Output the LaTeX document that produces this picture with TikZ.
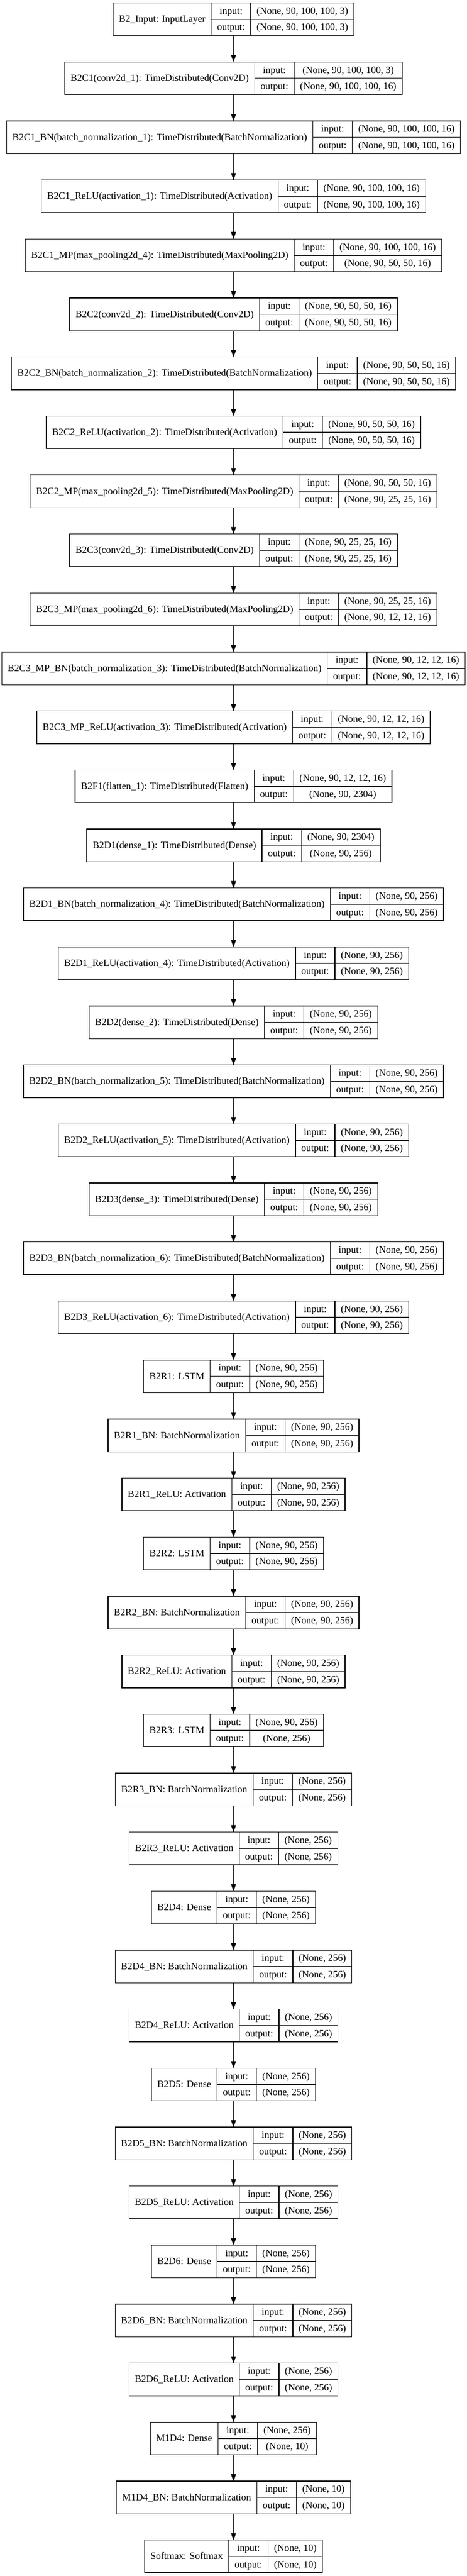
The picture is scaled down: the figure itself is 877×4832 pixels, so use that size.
\documentclass[tikz,border=0pt]{standalone}
\usepackage{fontspec}
\setmainfont{Liberation Serif}
\usetikzlibrary{arrows.meta,fit,calc}
\newlength\LA \newlength\LB \newlength\LC \newlength\LD \newlength\LT
\newcommand\lf{\fontsize{18.4pt}{22pt}\selectfont}
\tikzset{
 cell/.style={draw=black, line width=1.3pt, inner xsep=0pt, inner ysep=0pt, outer sep=0pt,
   minimum height=30.65pt, text height=15.6pt, text depth=4.6pt, font=\lf},
 labcell/.style={cell, minimum height=61.3pt},
 measure/.style={inner sep=0pt, outer sep=0pt, minimum size=0pt, text height=0pt, text depth=0pt},
 frame/.style={draw=none, inner sep=0pt, outer sep=0pt},
 flow/.style={draw=black, line width=1.3pt, -{Triangle[length=13pt,width=9.5pt]}}
}
\newcommand\layer[5]{%
 \node[measure] (#1m) at (438.5pt,0pt) {\lf\settowidth\LA{#3}\settowidth\LB{output:}\settowidth\LC{#4}\settowidth\LD{#5}\global\LA=\LA\global\LB=\LB\global\LC=\LC\global\LD=\LD};%
 \ifdim\LD>\LC \global\LC=\LD\fi
 \addtolength\LA{22pt}\addtolength\LB{22pt}\addtolength\LC{22pt}%
 \LT=\LA \advance\LT\LB \advance\LT\LC
 \pgfmathsetmacro\ytop{-(5.5+110.68*#2)}%
 \pgfmathsetlengthmacro\xleft{438.5pt-0.5*\LT}%
 \node[labcell, minimum width=\LA, anchor=north west] (#1l) at (\xleft, \ytop pt) {#3};
 \node[cell, minimum width=\LB, anchor=north west] (#1i) at (#1l.north east) {input:};
 \node[cell, minimum width=\LB, anchor=north west] (#1o) at (#1i.south west) {output:};
 \node[cell, minimum width=\LC, anchor=north west] (#1x) at (#1i.north east) {#4};
 \node[cell, minimum width=\LC, anchor=north west] (#1y) at (#1x.south west) {#5};
 \node[frame, fit=(#1l)(#1y)] (#1) {};
}
\begin{document}
\begin{tikzpicture}
\useasboundingbox[fill=white] (0,0) rectangle (877pt,-4832pt);
\layer{n0}{0}{B2\_Input: InputLayer}{(None, 90, 100, 100, 3)}{(None, 90, 100, 100, 3)}
\layer{n1}{1}{B2C1(conv2d\_1): TimeDistributed(Conv2D)}{(None, 90, 100, 100, 3)}{(None, 90, 100, 100, 16)}
\layer{n2}{2}{B2C1\_BN(batch\_normalization\_1): TimeDistributed(BatchNormalization)}{(None, 90, 100, 100, 16)}{(None, 90, 100, 100, 16)}
\layer{n3}{3}{B2C1\_ReLU(activation\_1): TimeDistributed(Activation)}{(None, 90, 100, 100, 16)}{(None, 90, 100, 100, 16)}
\layer{n4}{4}{B2C1\_MP(max\_pooling2d\_4): TimeDistributed(MaxPooling2D)}{(None, 90, 100, 100, 16)}{(None, 90, 50, 50, 16)}
\layer{n5}{5}{B2C2(conv2d\_2): TimeDistributed(Conv2D)}{(None, 90, 50, 50, 16)}{(None, 90, 50, 50, 16)}
\layer{n6}{6}{B2C2\_BN(batch\_normalization\_2): TimeDistributed(BatchNormalization)}{(None, 90, 50, 50, 16)}{(None, 90, 50, 50, 16)}
\layer{n7}{7}{B2C2\_ReLU(activation\_2): TimeDistributed(Activation)}{(None, 90, 50, 50, 16)}{(None, 90, 50, 50, 16)}
\layer{n8}{8}{B2C2\_MP(max\_pooling2d\_5): TimeDistributed(MaxPooling2D)}{(None, 90, 50, 50, 16)}{(None, 90, 25, 25, 16)}
\layer{n9}{9}{B2C3(conv2d\_3): TimeDistributed(Conv2D)}{(None, 90, 25, 25, 16)}{(None, 90, 25, 25, 16)}
\layer{n10}{10}{B2C3\_MP(max\_pooling2d\_6): TimeDistributed(MaxPooling2D)}{(None, 90, 25, 25, 16)}{(None, 90, 12, 12, 16)}
\layer{n11}{11}{B2C3\_MP\_BN(batch\_normalization\_3): TimeDistributed(BatchNormalization)}{(None, 90, 12, 12, 16)}{(None, 90, 12, 12, 16)}
\layer{n12}{12}{B2C3\_MP\_ReLU(activation\_3): TimeDistributed(Activation)}{(None, 90, 12, 12, 16)}{(None, 90, 12, 12, 16)}
\layer{n13}{13}{B2F1(flatten\_1): TimeDistributed(Flatten)}{(None, 90, 12, 12, 16)}{(None, 90, 2304)}
\layer{n14}{14}{B2D1(dense\_1): TimeDistributed(Dense)}{(None, 90, 2304)}{(None, 90, 256)}
\layer{n15}{15}{B2D1\_BN(batch\_normalization\_4): TimeDistributed(BatchNormalization)}{(None, 90, 256)}{(None, 90, 256)}
\layer{n16}{16}{B2D1\_ReLU(activation\_4): TimeDistributed(Activation)}{(None, 90, 256)}{(None, 90, 256)}
\layer{n17}{17}{B2D2(dense\_2): TimeDistributed(Dense)}{(None, 90, 256)}{(None, 90, 256)}
\layer{n18}{18}{B2D2\_BN(batch\_normalization\_5): TimeDistributed(BatchNormalization)}{(None, 90, 256)}{(None, 90, 256)}
\layer{n19}{19}{B2D2\_ReLU(activation\_5): TimeDistributed(Activation)}{(None, 90, 256)}{(None, 90, 256)}
\layer{n20}{20}{B2D3(dense\_3): TimeDistributed(Dense)}{(None, 90, 256)}{(None, 90, 256)}
\layer{n21}{21}{B2D3\_BN(batch\_normalization\_6): TimeDistributed(BatchNormalization)}{(None, 90, 256)}{(None, 90, 256)}
\layer{n22}{22}{B2D3\_ReLU(activation\_6): TimeDistributed(Activation)}{(None, 90, 256)}{(None, 90, 256)}
\layer{n23}{23}{B2R1: LSTM}{(None, 90, 256)}{(None, 90, 256)}
\layer{n24}{24}{B2R1\_BN: BatchNormalization}{(None, 90, 256)}{(None, 90, 256)}
\layer{n25}{25}{B2R1\_ReLU: Activation}{(None, 90, 256)}{(None, 90, 256)}
\layer{n26}{26}{B2R2: LSTM}{(None, 90, 256)}{(None, 90, 256)}
\layer{n27}{27}{B2R2\_BN: BatchNormalization}{(None, 90, 256)}{(None, 90, 256)}
\layer{n28}{28}{B2R2\_ReLU: Activation}{(None, 90, 256)}{(None, 90, 256)}
\layer{n29}{29}{B2R3: LSTM}{(None, 90, 256)}{(None, 256)}
\layer{n30}{30}{B2R3\_BN: BatchNormalization}{(None, 256)}{(None, 256)}
\layer{n31}{31}{B2R3\_ReLU: Activation}{(None, 256)}{(None, 256)}
\layer{n32}{32}{B2D4: Dense}{(None, 256)}{(None, 256)}
\layer{n33}{33}{B2D4\_BN: BatchNormalization}{(None, 256)}{(None, 256)}
\layer{n34}{34}{B2D4\_ReLU: Activation}{(None, 256)}{(None, 256)}
\layer{n35}{35}{B2D5: Dense}{(None, 256)}{(None, 256)}
\layer{n36}{36}{B2D5\_BN: BatchNormalization}{(None, 256)}{(None, 256)}
\layer{n37}{37}{B2D5\_ReLU: Activation}{(None, 256)}{(None, 256)}
\layer{n38}{38}{B2D6: Dense}{(None, 256)}{(None, 256)}
\layer{n39}{39}{B2D6\_BN: BatchNormalization}{(None, 256)}{(None, 256)}
\layer{n40}{40}{B2D6\_ReLU: Activation}{(None, 256)}{(None, 256)}
\layer{n41}{41}{M1D4: Dense}{(None, 256)}{(None, 10)}
\layer{n42}{42}{M1D4\_BN: BatchNormalization}{(None, 10)}{(None, 10)}
\layer{n43}{43}{Softmax: Softmax}{(None, 10)}{(None, 10)}
\foreach \i in {0,...,42}{
  \pgfmathtruncatemacro\j{\i+1}
  \draw[flow] (n\i.south) -- (n\j.north);
}
\end{tikzpicture}
\end{document}
